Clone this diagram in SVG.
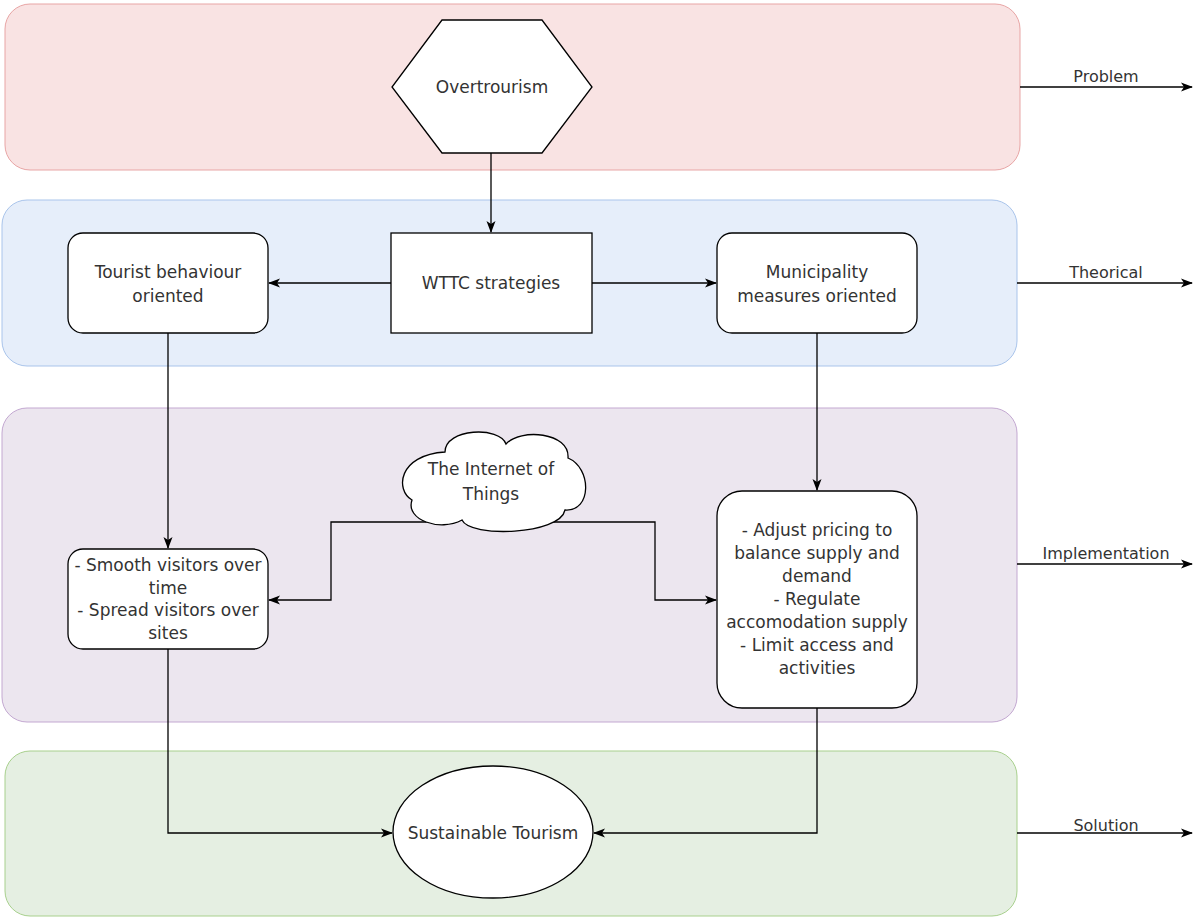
<svg xmlns="http://www.w3.org/2000/svg" width="1197" height="917" viewBox="0 0 1197 917">
<style>
text{font-family:"DejaVu Sans",Verdana,sans-serif;font-size:17px;fill:#333;text-anchor:middle;dominant-baseline:central}
.lbl{font-size:16px}
.node{fill:#fff;stroke:#000;stroke-width:1.3}
.edge{fill:none;stroke:#000;stroke-width:1.3}
</style>
<defs>
<marker id="ah" viewBox="0 0 12 10" refX="11" refY="5" markerWidth="12" markerHeight="10" markerUnits="userSpaceOnUse" orient="auto">
<path d="M0,0.5 L12,5 L0,9.5 L3,5 Z" fill="#000"/>
</marker>
</defs>
<g id="lanes">
<rect id="lane-problem" x="5" y="4" width="1015" height="166" rx="25" fill="#f9e3e3" stroke="#e8a5a5"/>
<rect id="lane-theorical" x="2" y="200" width="1015" height="166" rx="25" fill="#e6eefa" stroke="#a9c4eb"/>
<rect id="lane-implementation" x="2" y="408" width="1015" height="314" rx="25" fill="#ece6ef" stroke="#c3a8d1"/>
<rect id="lane-solution" x="5" y="751" width="1012" height="165" rx="25" fill="#e5efe2" stroke="#a8d08d"/>
</g>
<g id="connectors">
<path class="edge" d="M491,153 V232" marker-end="url(#ah)"/>
<path class="edge" d="M391,283 H269" marker-end="url(#ah)"/>
<path class="edge" d="M592,283 H716" marker-end="url(#ah)"/>
<path class="edge" d="M168,333 V548" marker-end="url(#ah)"/>
<path class="edge" d="M817,333 V490" marker-end="url(#ah)"/>
<path class="edge" d="M455,522 H331 V600 H269" marker-end="url(#ah)"/>
<path class="edge" d="M530,522 H655 V600 H716" marker-end="url(#ah)"/>
<path class="edge" d="M168,649 V833 H392" marker-end="url(#ah)"/>
<path class="edge" d="M817,708 V833 H594" marker-end="url(#ah)"/>
<path class="edge" d="M1020,87 H1192" marker-end="url(#ah)"/>
<path class="edge" d="M1017,283 H1192" marker-end="url(#ah)"/>
<path class="edge" d="M1017,564 H1192" marker-end="url(#ah)"/>
<path class="edge" d="M1017,833 H1192" marker-end="url(#ah)"/>
<text class="lbl" x="1106" y="76">Problem</text>
<text class="lbl" x="1106" y="272">Theorical</text>
<text class="lbl" x="1106" y="553">Implementation</text>
<text class="lbl" x="1106" y="825">Solution</text>
</g>
<g id="overtourism">
<polygon class="node" points="442,20 542,20 592,87 542,153 442,153 392,87"/>
<text x="492" y="87">Overtrourism</text>
</g>
<g id="wttc">
<rect class="node" x="391" y="233" width="201" height="100"/>
<text x="491" y="283">WTTC strategies</text>
</g>
<g id="tourist">
<rect class="node" x="68" y="233" width="200" height="100" rx="15"/>
<text x="168" y="272">Tourist behaviour</text>
<text x="168" y="296">oriented</text>
</g>
<g id="municipality">
<rect class="node" x="717" y="233" width="200" height="100" rx="15"/>
<text x="817" y="272">Municipality</text>
<text x="817" y="296">measures oriented</text>
</g>
<g id="iot">
<path class="node" d="M445,452 C445,428 500,426 506,444 C520,428 570,432 568,458 C592,468 592,512 565,510 C560,535 470,538 462,520 C440,532 405,520 412,500 C395,490 398,455 445,452 Z"/>
<text x="491" y="469">The Internet of</text>
<text x="491" y="494">Things</text>
</g>
<g id="smooth">
<rect class="node" x="68" y="549" width="200" height="100" rx="15"/>
<text x="168" y="565">- Smooth visitors over</text>
<text x="168" y="588">time</text>
<text x="168" y="610">- Spread visitors over</text>
<text x="168" y="633">sites</text>
</g>
<g id="adjust">
<rect class="node" x="717" y="491" width="200" height="217" rx="25"/>
<text x="817" y="530">- Adjust pricing to</text>
<text x="817" y="553">balance supply and</text>
<text x="817" y="576">demand</text>
<text x="817" y="599">- Regulate</text>
<text x="817" y="622">accomodation supply</text>
<text x="817" y="645">- Limit access and</text>
<text x="817" y="668">activities</text>
</g>
<g id="sustainable">
<ellipse class="node" cx="493" cy="832" rx="100" ry="66"/>
<text x="493" y="833">Sustainable Tourism</text>
</g>
</svg>
